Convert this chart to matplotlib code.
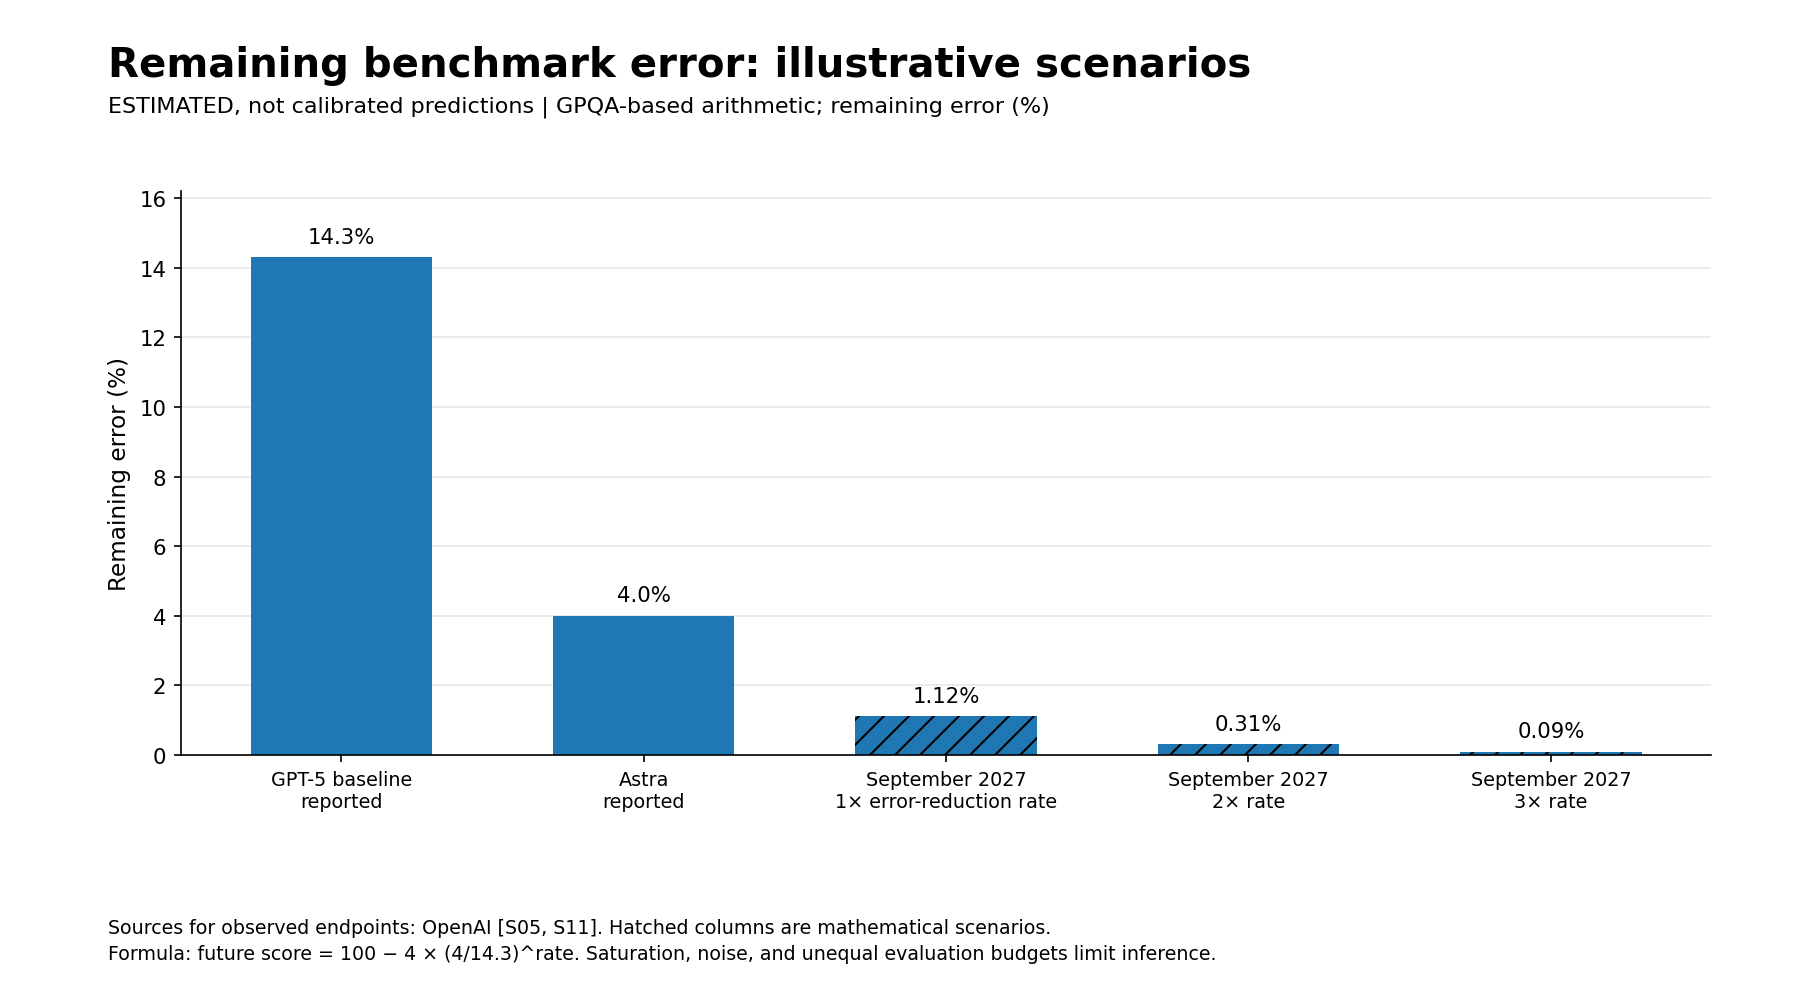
import matplotlib
matplotlib.use("Agg")
import matplotlib.pyplot as plt

# chart values
labels = ["GPT-5 baseline\nreported", "Astra\nreported",
          "September 2027\n1× error-reduction rate",
          "September 2027\n2× rate", "September 2027\n3× rate"]
errors = [14.3, 4.0, 1.12, 0.31, 0.09]
value_text = ["14.3%", "4.0%", "1.12%", "0.31%", "0.09%"]
hatched = [False, False, True, True, True]

fig = plt.figure(figsize=(12, 1007 / 150), dpi=150)
ax = fig.add_axes([0.1006, 0.2493, 0.850, 0.5597])

x = range(len(labels))
bars = ax.bar(x, errors, width=0.6, color="#1f77b4", zorder=2)
for b, h in zip(bars, hatched):
    if h:
        b.set_hatch("//")

for b, t in zip(bars, value_text):
    ax.annotate(t, (b.get_x() + b.get_width() / 2, b.get_height()),
                xytext=(0, 5), textcoords="offset points",
                ha="center", va="bottom", fontsize=10.2)

ax.set_xticks(list(x))
ax.set_xticklabels(labels, fontsize=9.2)
ax.tick_params(axis="y", labelsize=10.2)
ax.set_ylim(0, 16.2)
ax.set_ylabel("Remaining error (%)", fontsize=11.1)
ax.grid(axis="y", color="#e8e8e8", linewidth=0.8)
ax.set_axisbelow(True)
ax.spines["top"].set_visible(False)
ax.spines["right"].set_visible(False)

fig.text(0.06, 0.924, "Remaining benchmark error: illustrative scenarios",
         fontsize=19.3, fontweight="bold", va="baseline")
fig.text(0.06, 0.888, "ESTIMATED, not calibrated predictions | GPQA-based arithmetic; remaining error (%)",
         fontsize=10.7, va="baseline")
fig.text(0.06, 0.072, "Sources for observed endpoints: OpenAI [S05, S11]. Hatched columns are mathematical scenarios.",
         fontsize=9.15, va="baseline")
fig.text(0.06, 0.0466, "Formula: future score = 100 − 4 × (4/14.3)^rate. Saturation, noise, and unequal evaluation budgets limit inference.",
         fontsize=9.15, va="baseline")

fig.savefig("out.png", dpi=150)
